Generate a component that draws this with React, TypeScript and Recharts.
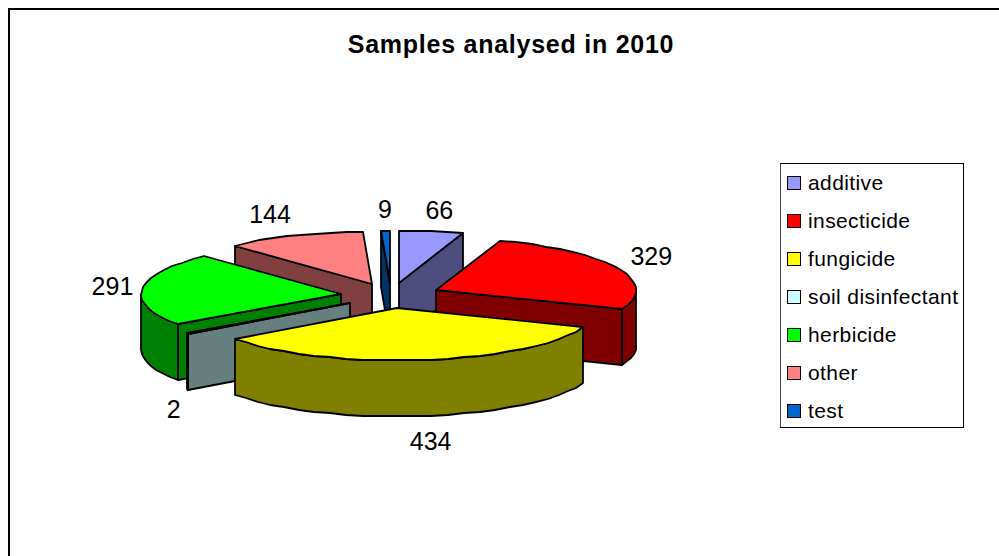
import React from "react";
import { PieChart, Pie, Legend } from "recharts";

const categories = ["additive", "insecticide", "fungicide", "soil disinfectant", "herbicide", "other", "test"];
const samples = [66, 329, 434, 2, 291, 144, 9];
const topColors = ["#9999ff", "#ff0000", "#ffff00", "#ccffff", "#00ff00", "#ff8080", "#0066cc"];
const wallColors = ["#4d4d80", "#800000", "#808000", "#668080", "#008000", "#804040", "#003366"];
// Painter's order: back slices first, front slices last.
const paintOrder = [5, 6, 0, 1, 4, 3, 2];

const W = 991;
const H = 548;
const TILT = 0.26;
const EXPLODE = 0.25;
const DEPTH = 56;
const STEP = 5;
const LABEL_SIZE = 25;
const total = samples.reduce((a, b) => a + b, 0);
const cumulative = samples.map((_, i) => samples.slice(0, i).reduce((a, b) => a + b, 0));

const clamp = (v: number) => Math.max(-1, Math.min(1, v));
const rad = (d: number) => (d * Math.PI) / 180;
const clockwise = (a: number) => 90 - a;

function rim(ax: number, ay: number, r: number, t: number): [number, number] {
  return [ax + r * Math.sin(rad(t)), ay - r * TILT * Math.cos(rad(t))];
}
function apex(cx: number, cy: number, r: number, mid: number): [number, number] {
  return rim(cx, cy, r * EXPLODE, mid);
}
function arc(ax: number, ay: number, r: number, t1: number, t2: number) {
  const pts: [number, number][] = [];
  const n = Math.max(1, Math.ceil((t2 - t1) / STEP));
  for (let i = 0; i <= n; i++) pts.push(rim(ax, ay, r, t1 + ((t2 - t1) * i) / n));
  return pts;
}
const poly = (pts: [number, number][]) =>
  "M" + pts.map((p) => `${Math.round(p[0])},${Math.round(p[1])}`).join("L") + "Z";
const down = (pts: [number, number][]) => pts.map((p) => [p[0], p[1] + DEPTH] as [number, number]);

function Slice3D(props: any) {
  const { cx, cy, outerRadius: r, startAngle, endAngle, payload } = props;
  const t1 = clockwise(startAngle);
  const t2 = clockwise(endAngle);
  const [ax, ay] = apex(cx, cy, r, (t1 + t2) / 2);
  const top = payload.top;
  const wall = payload.wall;
  const stroke = { stroke: "#000", strokeWidth: 1.8, strokeLinejoin: "round" as const };
  const walls: React.ReactNode[] = [];
  const radial = (t: number, key: string) => {
    const edge: [number, number][] = [[ax, ay], rim(ax, ay, r, t)];
    walls.push(<path key={key} d={poly([...edge, ...down(edge).reverse()])} fill={wall} {...stroke} />);
  };
  if (t1 > 180 && t1 < 360) radial(t1, "s");
  if (t2 > 0 && t2 < 180) radial(t2, "e");
  const lo = Math.max(t1, 90);
  const hi = Math.min(t2, 270);
  if (hi > lo) {
    const a = arc(ax, ay, r, lo, hi);
    walls.push(<path key="o" d={poly([...a, ...down(a).reverse()])} fill={wall} {...stroke} />);
  }
  return (
    <g>
      {walls}
      <path d={poly([[ax, ay], ...arc(ax, ay, r, t1, t2)])} fill={top} {...stroke} />
    </g>
  );
}

function SliceLabel(props: any) {
  const { cx, cy, outerRadius: r, midAngle, value } = props;
  const m = clockwise(midAngle);
  const [ax, ay] = apex(cx, cy, r, m);
  const [rx, ry] = rim(ax, ay, r, m);
  const s = Math.sin(rad(m));
  const c = Math.cos(rad(m));
  const halfW = (String(value).length * 0.556 * LABEL_SIZE) / 2;
  const x = rx + halfW * clamp(2.5 * s) + (s > 0 ? 14 : 9) * s;
  const y = ry - (11 * clamp(1.6 * c) + 11 * c) + (c < 0 ? DEPTH + 3 : 0);
  return (
    <text x={x} y={y} textAnchor="middle" dominantBaseline="central" fontSize={LABEL_SIZE} fill="#000" fontFamily="Liberation Sans">
      {value}
    </text>
  );
}

function LegendBox() {
  return (
    <div style={{ boxSizing: "border-box", width: 184, height: 265, border: "1px solid #000", borderLeft: "1.5px solid #444", background: "#fff", fontFamily: "Liberation Sans", fontSize: 21, letterSpacing: 0.4, color: "#000" }}>
      {categories.map((c, i) => (
        <div key={c} style={{ display: "flex", alignItems: "center", height: 38, paddingLeft: 6 }}>
          <span style={{ boxSizing: "border-box", width: 14, height: 14, background: topColors[i], border: "1.5px solid #000", marginRight: 7 }} />
          <span style={{ whiteSpace: "nowrap" }}>{c}</span>
        </div>
      ))}
    </div>
  );
}

export default function App() {
  return (
    <div style={{ position: "absolute", left: 8, top: 8, width: W, height: H, boxSizing: "border-box", borderTop: "2px solid #000", borderLeft: "2px solid #000", overflow: "hidden", background: "#fff" }}>
      <div style={{ position: "absolute", left: -2, top: -2 }}>
        <PieChart width={W} height={H} margin={{ top: 0, right: 0, bottom: 0, left: 0 }}>
          <text x={503} y={45} textAnchor="middle" fontSize={25} fontWeight="bold" letterSpacing={0.75} fill="#000" fontFamily="Liberation Sans">
            Samples analysed in 2010
          </text>
          {paintOrder.map((i) => (
            <Pie
              key={categories[i]}
              data={[{ name: categories[i], value: samples[i], top: topColors[i], wall: wallColors[i] }]}
              dataKey="value"
              nameKey="name"
              cx={383}
              cy={287.5}
              innerRadius={0}
              outerRadius={200}
              startAngle={90 - (cumulative[i] / total) * 360}
              endAngle={90 - ((cumulative[i] + samples[i]) / total) * 360}
              shape={Slice3D}
              label={SliceLabel}
              labelLine={false}
              stroke="none"
              isAnimationActive={false}
            />
          ))}
          <Legend content={LegendBox} layout="vertical" wrapperStyle={{ position: "absolute", left: 772, top: 155, width: 184, height: 265 }} />
        </PieChart>
      </div>
    </div>
  );
}
